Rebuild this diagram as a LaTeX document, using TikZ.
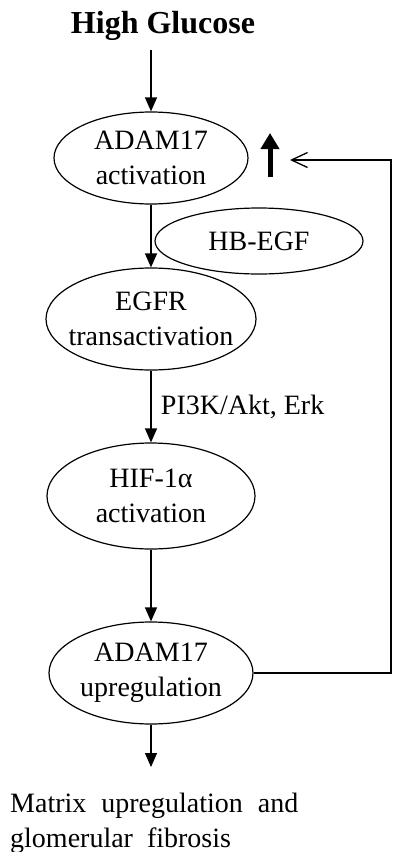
\documentclass[tikz,border=0pt]{standalone}
\usepackage{fontspec}
\setmainfont{Liberation Serif}
\usepackage{tikz}
\usetikzlibrary{shapes.geometric, positioning, arrows.meta}
\tikzset{
	flow/.style={-{Triangle[length=14pt,width=12pt]}, line width=1.3pt}, % plain downward steps
	bubble/.style={ellipse, draw, line width=1.2pt, inner sep=-12pt, align=center}, % every ellipse
	node distance=177pt, % vertical spacing between the ellipses
}

\begin{document}
\begin{tikzpicture}[x=1pt, y=1pt, on grid, font=\fontsize{28}{35}\selectfont]
		\useasboundingbox (0,0) rectangle (394,-852);
		% Define the nodes
		\node[font=\fontsize{32}{35}\selectfont\bfseries, inner sep=0] (hg) at (163,-26) {High Glucose};
		\node[bubble, minimum width=194pt, minimum height=92pt] (a17) at (151,-158) {ADAM17\\activation};
		\node[bubble, minimum width=208pt, minimum height=66pt, below right=83pt and 108pt of a17] (hbegf) {HB-EGF};
		\node[bubble, minimum width=210pt, minimum height=102pt, below=161pt of a17] (egfr) {EGFR\\transactivation};
		\node[bubble, minimum width=208pt, minimum height=106pt, below=of egfr] (hif) {HIF-1α\\activation};
		\node[bubble, minimum width=204pt, minimum height=102pt, below=of hif] (a17up) {ADAM17\\upregulation};
		\node[inner sep=0, anchor=north west, align=left] (fib) at (10,-793)
			{Matrix\hspace{15pt}upregulation\hspace{15pt}and\\glomerular\hspace{14pt}fibrosis};
		
		% Helper points
		\coordinate (hgend) at (151,-50);
		\coordinate (fibtip) at (151,-767);
		\coordinate (rail) at (391,0);
		\coordinate (fb) at (290,-160);
		\coordinate (upbot) at (270,-177);
		\coordinate (uptop) at (270,-133);
		
		% Arrows
		\draw[flow] (hgend) -- (a17.north);
		\draw[flow] (a17.south) -- (egfr.north);
		\draw[flow] (egfr.south) -- node[right=6pt, anchor=west] {PI3K/Akt, Erk} (hif.north);
		\draw[flow] (hif.south) -- (a17up.north);
		\draw[flow] (a17up.south) -- (fibtip);
		\draw[line width=1.3pt, -{Straight Barb[length=16pt,width=15pt]}]
			(a17up.east) -- (a17up.east -| rail) |- (fb);
		\draw[line width=5pt, -{Triangle[length=16pt,width=18pt]}] (upbot) -- (uptop);
	\end{tikzpicture}
\end{document}
